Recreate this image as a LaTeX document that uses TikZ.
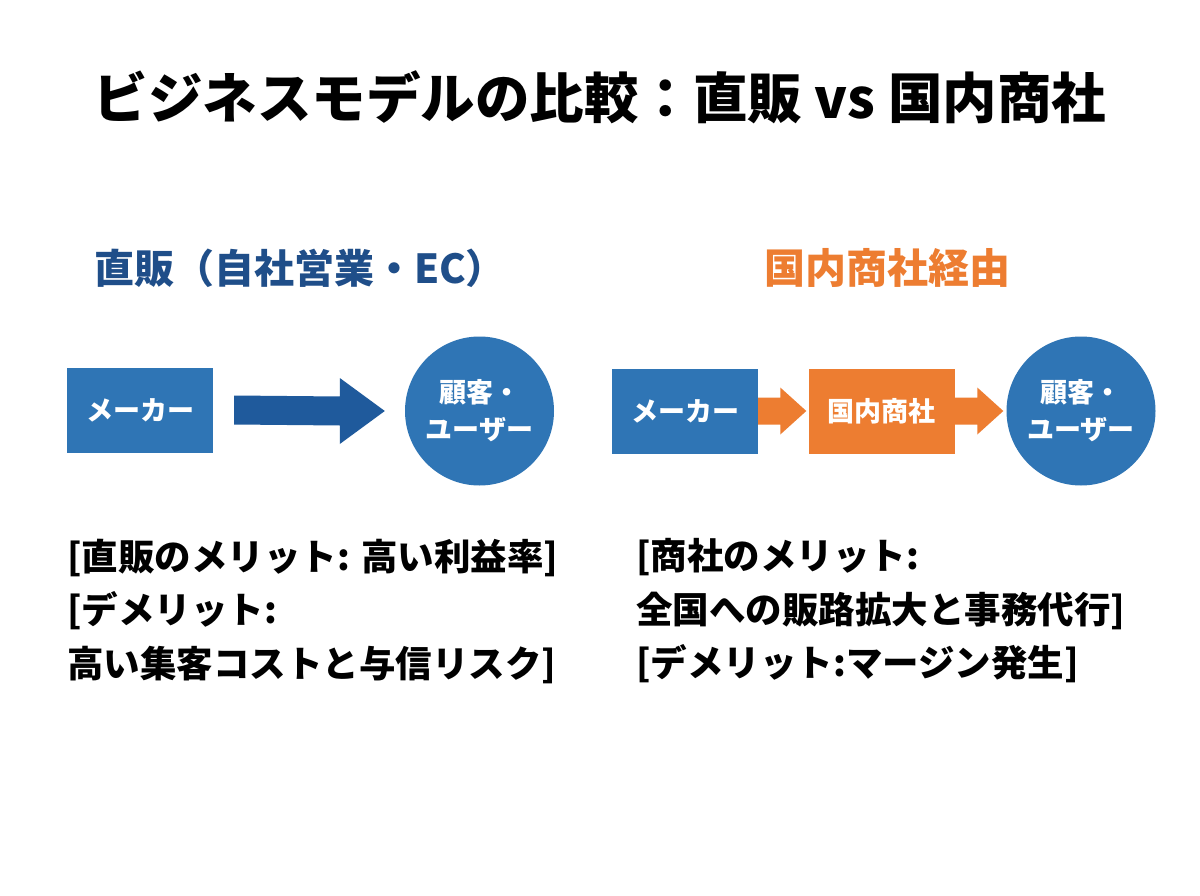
\documentclass[tikz,border=0pt]{standalone}
\usepackage{fontspec}
\setmainfont{Noto Sans CJK JP}
\usetikzlibrary{calc}
\definecolor{boxblue}{HTML}{2F75B5}
\definecolor{arrowblue}{HTML}{1F5A9C}
\definecolor{headblue}{HTML}{1F4E89}
\definecolor{orng}{HTML}{ED7D31}
\tikzset{
  box/.style={rectangle, fill=#1, text=white, minimum width=146pt, minimum height=85pt, inner sep=0pt, font=\fontsize{27}{32}\selectfont\bfseries},
  circ/.style={circle, fill=boxblue, text=white, minimum size=149pt, inner sep=0pt, align=center, font=\fontsize{27}{37}\selectfont\bfseries},
  heading/.style={text=#1, font=\fontsize{40}{48}\selectfont\bfseries, inner sep=0pt},
  body/.style={anchor=west, align=left, inner sep=0pt, font=\fontsize{36.5}{53.5}\selectfont\bfseries}
}
\newcommand{\fatarrow}[6]{%
  \fill[#6] ($(#1)+(0,#3)$) -- ($(#2)+(-#5,#3)$) -- ($(#2)+(-#5,#4)$) -- (#2)
    -- ($(#2)+(-#5,-#4)$) -- ($(#2)+(-#5,-#3)$) -- ($(#1)+(0,-#3)$) -- cycle;}
\begin{document}
\begin{tikzpicture}[x=1pt,y=-1pt]
\useasboundingbox[fill=white] (0,0) rectangle (1200,896);
\node[font=\fontsize{54.5}{60}\selectfont\bfseries, inner sep=0pt] (title) at (600,97) {ビジネスモデルの比較：直販 vs 国内商社};
\node[heading=headblue] (h1) at (300,268) {直販（自社営業・EC）};
\node[heading=orng, font=\fontsize{41}{48}\selectfont\bfseries] (h2) at (887,268) {国内商社経由};
% left flow
\node[box=boxblue] (m1) at (140,410) {メーカー};
\node[circ] (c1) at (479.5,411) {顧客・\\ユーザー};
\coordinate (a1s) at ($(m1.east)+(21,0)$);
\coordinate (a1e) at ($(c1.west)+(-20,0)$);
\fatarrow{a1s}{a1e}{14.5}{33}{45}{arrowblue}
% right flow
\node[box=boxblue] (m2) at (685,411) {メーカー};
\node[box=orng] (t2) at (881.5,411) {国内商社};
\node[circ] (c2) at (1081,411) {顧客・\\ユーザー};
\coordinate (a2s) at (m2.east);
\coordinate (a2e) at ($(t2.west)+(-2,0)$);
\fatarrow{a2s}{a2e}{13.5}{23.5}{26}{orng}
\coordinate (a3s) at (t2.east);
\coordinate (a3e) at ($(c2.west)+(-3,0)$);
\fatarrow{a3s}{a3e}{13.5}{23.5}{26}{orng}
% texts
\node[body] (t1) at (67,611) {{[}直販のメリット: 高い利益率{]}\\{[}デメリット:\\高い集客コストと与信リスク{]}};
\node[body] (t3) at (636,611) {{[}商社のメリット:\\全国への販路拡大と事務代行{]}\\{[}デメリット:マージン発生{]}};
\end{tikzpicture}
\end{document}
